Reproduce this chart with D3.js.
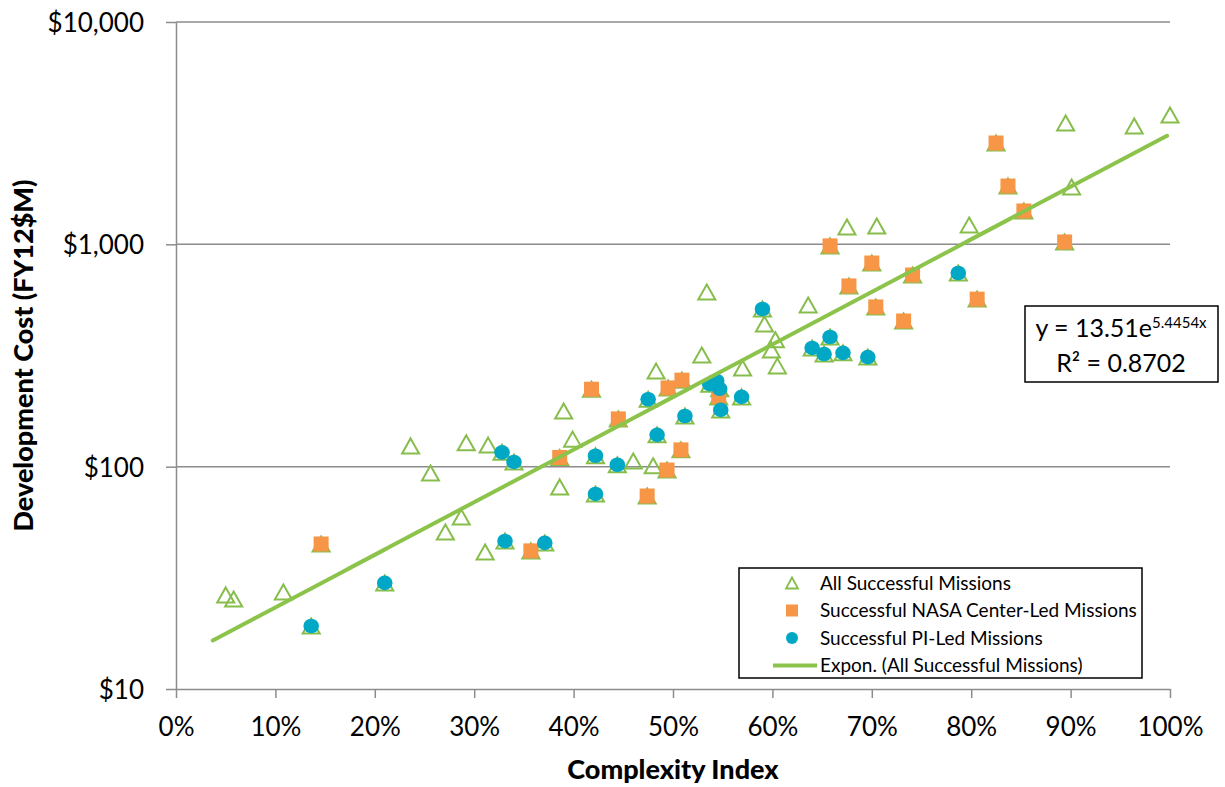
<!DOCTYPE html>
<html>
<head>
<meta charset="utf-8">
<script src="https://cdn.jsdelivr.net/npm/d3@7"></script>
<style>
  body { margin: 0; background: #fff; }
  svg { display: block; font-family: Lato, "Open Sans", sans-serif; }
</style>
</head>
<body>
<svg></svg>
<script>
var width = 1225;
var height = 787;
var margin = {left: 176, right: 55, top: 22, bottom: 98};

// [complexity index, development cost in FY12 $M]
// missions shown only as triangles
var otherMissions = [
  [0.050, 26.5], [0.058, 25.4], [0.108, 27.3], [0.236, 124], [0.256, 93.7],
  [0.292, 128], [0.271, 50.8], [0.287, 59.4], [0.314, 125], [0.311, 41.3],
  [0.386, 81.1], [0.390, 178], [0.399, 133], [0.460, 106], [0.480, 101],
  [0.483, 269], [0.529, 318], [0.534, 611], [0.570, 278], [0.592, 438],
  [0.599, 335], [0.603, 372], [0.605, 284], [0.636, 533], [0.675, 1197],
  [0.705, 1210], [0.798, 1222], [0.895, 3515], [0.901, 1811], [0.964, 3406],
  [1.000, 3818]
];
// NASA center-led missions
var nasaMissions = [
  [0.146, 44.9], [0.357, 41.8], [0.386, 110], [0.418, 223], [0.445, 164],
  [0.474, 73.8], [0.494, 96.6], [0.495, 226], [0.508, 119], [0.509, 245],
  [0.546, 206], [0.658, 984], [0.677, 650], [0.700, 824], [0.704, 523],
  [0.732, 452], [0.741, 728], [0.806, 567], [0.825, 2856], [0.837, 1829],
  [0.853, 1413], [0.894, 1025]
];
// PI-led missions
var piMissions = [
  [0.136, 19.2], [0.210, 30.0], [0.328, 116], [0.340, 105], [0.331, 46.3],
  [0.371, 45.4], [0.422, 112], [0.422, 75.4], [0.444, 102], [0.475, 201],
  [0.484, 139], [0.512, 169], [0.537, 235], [0.544, 243], [0.547, 224],
  [0.548, 180], [0.569, 206], [0.590, 512], [0.640, 342], [0.652, 321],
  [0.658, 383], [0.671, 325], [0.696, 311], [0.787, 743]
];
// every successful mission
var allMissions = otherMissions.concat(nasaMissions, piMissions);

// exponential fit shown on the chart
var fitA = 13.51;
var fitB = 5.4454;
var fitR2 = "0.8702";
var fitRange = [0.037, 1.0];

var xTicks = [0, 0.1, 0.2, 0.3, 0.4, 0.5, 0.6, 0.7, 0.8, 0.9, 1.0];
var yTicks = [10, 100, 1000, 10000];
var seriesNames = [
  "All Successful Missions",
  "Successful NASA Center-Led Missions",
  "Successful PI-Led Missions",
  "Expon. (All Successful Missions)"
];

var green = "#86bd4b";
var lineGreen = "#8cc34a";
var orange = "#f79646";
var teal = "#00a8c6";
var gray = "#8c8c8c";

var svg = d3.select("svg")
  .attr("width", width)
  .attr("height", height);

var xScale = d3.scaleLinear()
  .domain([0, 1])
  .range([margin.left, width - margin.right]);

var yScale = d3.scaleLog()
  .domain([10, 10000])
  .range([height - margin.bottom, margin.top]);

// gridlines
svg.append("g")
  .selectAll("line")
  .data(yTicks.slice(1))
  .enter()
  .append("line")
    .attr("x1", margin.left)
    .attr("x2", width - margin.right)
    .attr("y1", function(d) { return yScale(d); })
    .attr("y2", function(d) { return yScale(d); })
    .attr("stroke", gray)
    .attr("stroke-width", 1.5);

var xAxis = d3.axisBottom(xScale)
  .tickValues(xTicks)
  .tickFormat(d3.format(".0%"))
  .tickSize(9)
  .tickSizeOuter(0)
  .tickPadding(20);

var yAxis = d3.axisLeft(yScale)
  .tickValues(yTicks)
  .tickFormat(function(d) { return "$" + d3.format(",")(d); })
  .tickSize(10)
  .tickSizeOuter(0)
  .tickPadding(22);

var gx = svg.append("g")
  .attr("transform", "translate(0," + (height - margin.bottom) + ")")
  .call(xAxis);
var gy = svg.append("g")
  .attr("transform", "translate(" + margin.left + ",0)")
  .call(yAxis);

[gx, gy].forEach(function(g) {
  g.select(".domain").attr("stroke", gray).attr("stroke-width", 1.5);
  g.selectAll(".tick line").attr("stroke", gray).attr("stroke-width", 1.5);
  g.selectAll(".tick text")
    .attr("fill", "#000")
    .style("font-family", "Lato, sans-serif")
    .style("font-size", "26px");
});
gy.selectAll(".tick text").attr("dy", "0.36em");

// axis titles
svg.append("text")
  .attr("x", (xScale(0) + xScale(1)) / 2)
  .attr("y", 779)
  .style("text-anchor", "middle")
  .style("font-size", "27px")
  .style("font-weight", "900")
  .text("Complexity Index");

svg.append("text")
  .attr("transform", "translate(33," + ((yScale(10) + yScale(10000)) / 2) + ") rotate(-90)")
  .style("text-anchor", "middle")
  .style("font-size", "27px")
  .style("font-weight", "900")
  .text("Development Cost (FY12$M)");

function trianglePath(w, h) {
  return "M0," + (-h / 2) + "L" + (w / 2) + "," + (h / 2) + "L" + (-w / 2) + "," + (h / 2) + "Z";
}

// all missions: open triangles
svg.append("g")
  .selectAll("path")
  .data(allMissions)
  .enter()
  .append("path")
    .attr("transform", function(d) { return "translate(" + xScale(d[0]) + "," + yScale(d[1]) + ")"; })
    .attr("d", trianglePath(17, 15))
    .attr("fill", "none")
    .attr("stroke", green)
    .attr("stroke-width", 2);

// nasa center-led: squares
svg.append("g")
  .selectAll("rect")
  .data(nasaMissions)
  .enter()
  .append("rect")
    .attr("x", function(d) { return xScale(d[0]) - 7.5; })
    .attr("y", function(d) { return yScale(d[1]) - 7.5; })
    .attr("width", 15)
    .attr("height", 15)
    .attr("fill", orange);

// pi-led: circles
svg.append("g")
  .selectAll("ellipse")
  .data(piMissions)
  .enter()
  .append("ellipse")
    .attr("cx", function(d) { return xScale(d[0]); })
    .attr("cy", function(d) { return yScale(d[1]); })
    .attr("rx", 7.8)
    .attr("ry", 7.3)
    .attr("fill", teal);

// trendline
var fitX = d3.range(fitRange[0], fitRange[1] + 0.0001, 0.01);
var line = d3.line()
  .x(function(d) { return xScale(d); })
  .y(function(d) { return yScale(fitA * Math.exp(fitB * d)); });

svg.append("path")
  .datum(fitX)
  .attr("d", line)
  .attr("fill", "none")
  .attr("stroke", lineGreen)
  .attr("stroke-width", 4)
  .attr("stroke-linecap", "round");

// equation label
var eq = svg.append("g");
eq.append("rect")
  .attr("x", 1025).attr("y", 306)
  .attr("width", 193).attr("height", 76)
  .attr("fill", "#fff")
  .attr("stroke", "#000")
  .attr("stroke-width", 1.5);
var eqText = eq.append("text")
  .attr("x", 1121).attr("y", 337)
  .style("text-anchor", "middle")
  .style("font-size", "25px");
eqText.append("tspan").text("y = " + fitA + "e");
eqText.append("tspan")
  .attr("dy", -9)
  .style("font-size", "15px")
  .text(fitB + "x");
eq.append("text")
  .attr("x", 1121).attr("y", 372)
  .style("text-anchor", "middle")
  .style("font-size", "25px")
  .text("R² = " + fitR2);

// legend
var legend = svg.append("g");
legend.append("rect")
  .attr("x", 739).attr("y", 568)
  .attr("width", 403).attr("height", 110)
  .attr("fill", "#fff")
  .attr("stroke", "#000")
  .attr("stroke-width", 1.5);

var legendRows = legend.selectAll("g")
  .data(seriesNames)
  .enter()
  .append("g")
    .attr("transform", function(d, i) { return "translate(0," + (583 + i * 27.5) + ")"; });

legendRows.append("text")
  .attr("x", 820)
  .attr("dy", "0.36em")
  .style("font-size", "19px")
  .text(function(d) { return d; });

legendRows.each(function(d, i) {
  var g = d3.select(this);
  if (i === 0) {
    g.append("path")
      .attr("transform", "translate(792,0)")
      .attr("d", trianglePath(12, 11))
      .attr("fill", "none")
      .attr("stroke", green)
      .attr("stroke-width", 1.8);
  } else if (i === 1) {
    g.append("rect")
      .attr("x", 786).attr("y", -6)
      .attr("width", 12).attr("height", 12)
      .attr("fill", orange);
  } else if (i === 2) {
    g.append("circle")
      .attr("cx", 792).attr("r", 6)
      .attr("fill", teal);
  } else {
    g.append("line")
      .attr("x1", 773).attr("x2", 817)
      .attr("stroke", lineGreen)
      .attr("stroke-width", 4);
  }
});
</script>
</body>
</html>
